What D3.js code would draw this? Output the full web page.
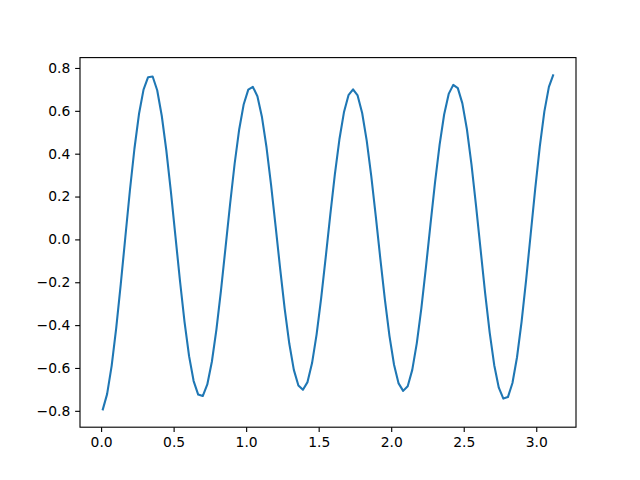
<!DOCTYPE html>
<html>
<head>
<meta charset="utf-8">
<script src="https://cdn.jsdelivr.net/npm/d3@7"></script>
<style>
  html, body { margin: 0; padding: 0; background: #fff; }
  svg { display: block; }
  text { font-family: "DejaVu Sans", sans-serif; }
</style>
</head>
<body>
<script>
// ---- data ----
const xValues = [
  0.0100, 0.0414, 0.0728, 0.1042, 0.1356, 0.1670, 0.1984, 0.2298, 0.2612, 0.2926,
  0.3240, 0.3554, 0.3868, 0.4182, 0.4496, 0.4810, 0.5124, 0.5438, 0.5752, 0.6066,
  0.6380, 0.6694, 0.7008, 0.7322, 0.7636, 0.7950, 0.8264, 0.8578, 0.8892, 0.9206,
  0.9520, 0.9834, 1.0148, 1.0462, 1.0776, 1.1090, 1.1404, 1.1718, 1.2032, 1.2346,
  1.2660, 1.2974, 1.3288, 1.3602, 1.3916, 1.4230, 1.4544, 1.4858, 1.5172, 1.5486,
  1.5800, 1.6114, 1.6428, 1.6742, 1.7056, 1.7370, 1.7684, 1.7998, 1.8312, 1.8626,
  1.8940, 1.9254, 1.9568, 1.9882, 2.0196, 2.0510, 2.0824, 2.1138, 2.1452, 2.1766,
  2.2080, 2.2394, 2.2708, 2.3022, 2.3336, 2.3650, 2.3964, 2.4278, 2.4592, 2.4906,
  2.5220, 2.5534, 2.5848, 2.6162, 2.6476, 2.6790, 2.7104, 2.7418, 2.7732, 2.8046,
  2.8360, 2.8674, 2.8988, 2.9302, 2.9616, 2.9930, 3.0244, 3.0558, 3.0872, 3.1186
];
const yValues = [
  -0.798, -0.722, -0.590, -0.414, -0.209,  0.010,  0.227,  0.423,  0.585,  0.699,
   0.757,  0.760,  0.696,  0.577,  0.416,  0.224,  0.015, -0.193, -0.385, -0.545,
  -0.661, -0.724, -0.731, -0.677, -0.571, -0.421, -0.239, -0.038,  0.164,  0.353,
   0.513,  0.631,  0.699,  0.712,  0.668,  0.571,  0.430,  0.255,  0.061, -0.138,
  -0.325, -0.486, -0.609, -0.682, -0.702, -0.666, -0.577, -0.443, -0.274, -0.083,
   0.114,  0.302,  0.466,  0.593,  0.673,  0.700,  0.672,  0.590,  0.461,  0.295,
   0.106, -0.092, -0.282, -0.451, -0.585, -0.672, -0.707, -0.685, -0.609, -0.484,
  -0.321, -0.131,  0.070,  0.266,  0.441,  0.583,  0.679,  0.721,  0.706,  0.635,
   0.514,  0.350,  0.158, -0.047, -0.251, -0.435, -0.587, -0.692, -0.743, -0.736,
  -0.670, -0.550, -0.385, -0.189,  0.024,  0.237,  0.433,  0.596,  0.712,  0.770
];
const xTicks = [0.0, 0.5, 1.0, 1.5, 2.0, 2.5, 3.0];
const xTickLabels = ["0.0", "0.5", "1.0", "1.5", "2.0", "2.5", "3.0"];
const yTicks = [-0.8, -0.6, -0.4, -0.2, 0.0, 0.2, 0.4, 0.6, 0.8];
const yTickLabels = ["\u22120.8", "\u22120.6", "\u22120.4", "\u22120.2", "0.0", "0.2", "0.4", "0.6", "0.8"];

// ---- layout (matplotlib default figure) ----
const W = 640, H = 480;
const mLeft = 80, mRight = 576, mTop = 57.6, mBottom = 427.2;
const pt = 100 / 72;
const fontPx = 10 * pt;
const tickLen = 3.5 * pt, tickPad = 3.5 * pt;

const svg = d3.select("body").append("svg").attr("width", W).attr("height", H);
svg.append("rect").attr("width", W).attr("height", H).attr("fill", "#fff");

const [xmin, xmax] = d3.extent(xValues);
const [ymin, ymax] = d3.extent(yValues);
const xm = (xmax - xmin) * 0.05, ym = (ymax - ymin) * 0.05;

const x = d3.scaleLinear().domain([xmin - xm, xmax + xm]).range([mLeft, mRight]);
const y = d3.scaleLinear().domain([ymin - ym, ymax + ym]).range([mBottom, mTop]);

// line
const pts = xValues.map((v, i) => [v, yValues[i]]);
svg.append("path")
  .datum(pts)
  .attr("fill", "none")
  .attr("stroke", "#1f77b4")
  .attr("stroke-width", 1.5 * pt)
  .attr("stroke-linejoin", "round")
  .attr("stroke-linecap", "butt")
  .attr("d", d3.line().x(d => x(d[0])).y(d => y(d[1])));

// axes
const xAxis = d3.axisBottom(x).tickValues(xTicks)
  .tickFormat((d, i) => xTickLabels[i]).tickSizeInner(tickLen).tickSizeOuter(0).tickPadding(tickPad);
const yAxis = d3.axisLeft(y).tickValues(yTicks)
  .tickFormat((d, i) => yTickLabels[i]).tickSizeInner(tickLen).tickSizeOuter(0).tickPadding(tickPad);

const gx = svg.append("g").attr("transform", `translate(0,${mBottom})`).call(xAxis);
const gy = svg.append("g").attr("transform", `translate(${mLeft},0)`).call(yAxis);
[gx, gy].forEach(g => {
  g.select(".domain").remove();
  g.selectAll(".tick line").attr("stroke", "#000").attr("stroke-width", 0.8 * pt);
  g.selectAll(".tick text").attr("fill", "#000")
    .style("font-family", "'DejaVu Sans', sans-serif").style("font-size", fontPx + "px");
});

// spines
svg.append("rect")
  .attr("x", mLeft).attr("y", mTop)
  .attr("width", mRight - mLeft).attr("height", mBottom - mTop)
  .attr("fill", "none").attr("stroke", "#000").attr("stroke-width", 0.8 * pt);
</script>
</body>
</html>
